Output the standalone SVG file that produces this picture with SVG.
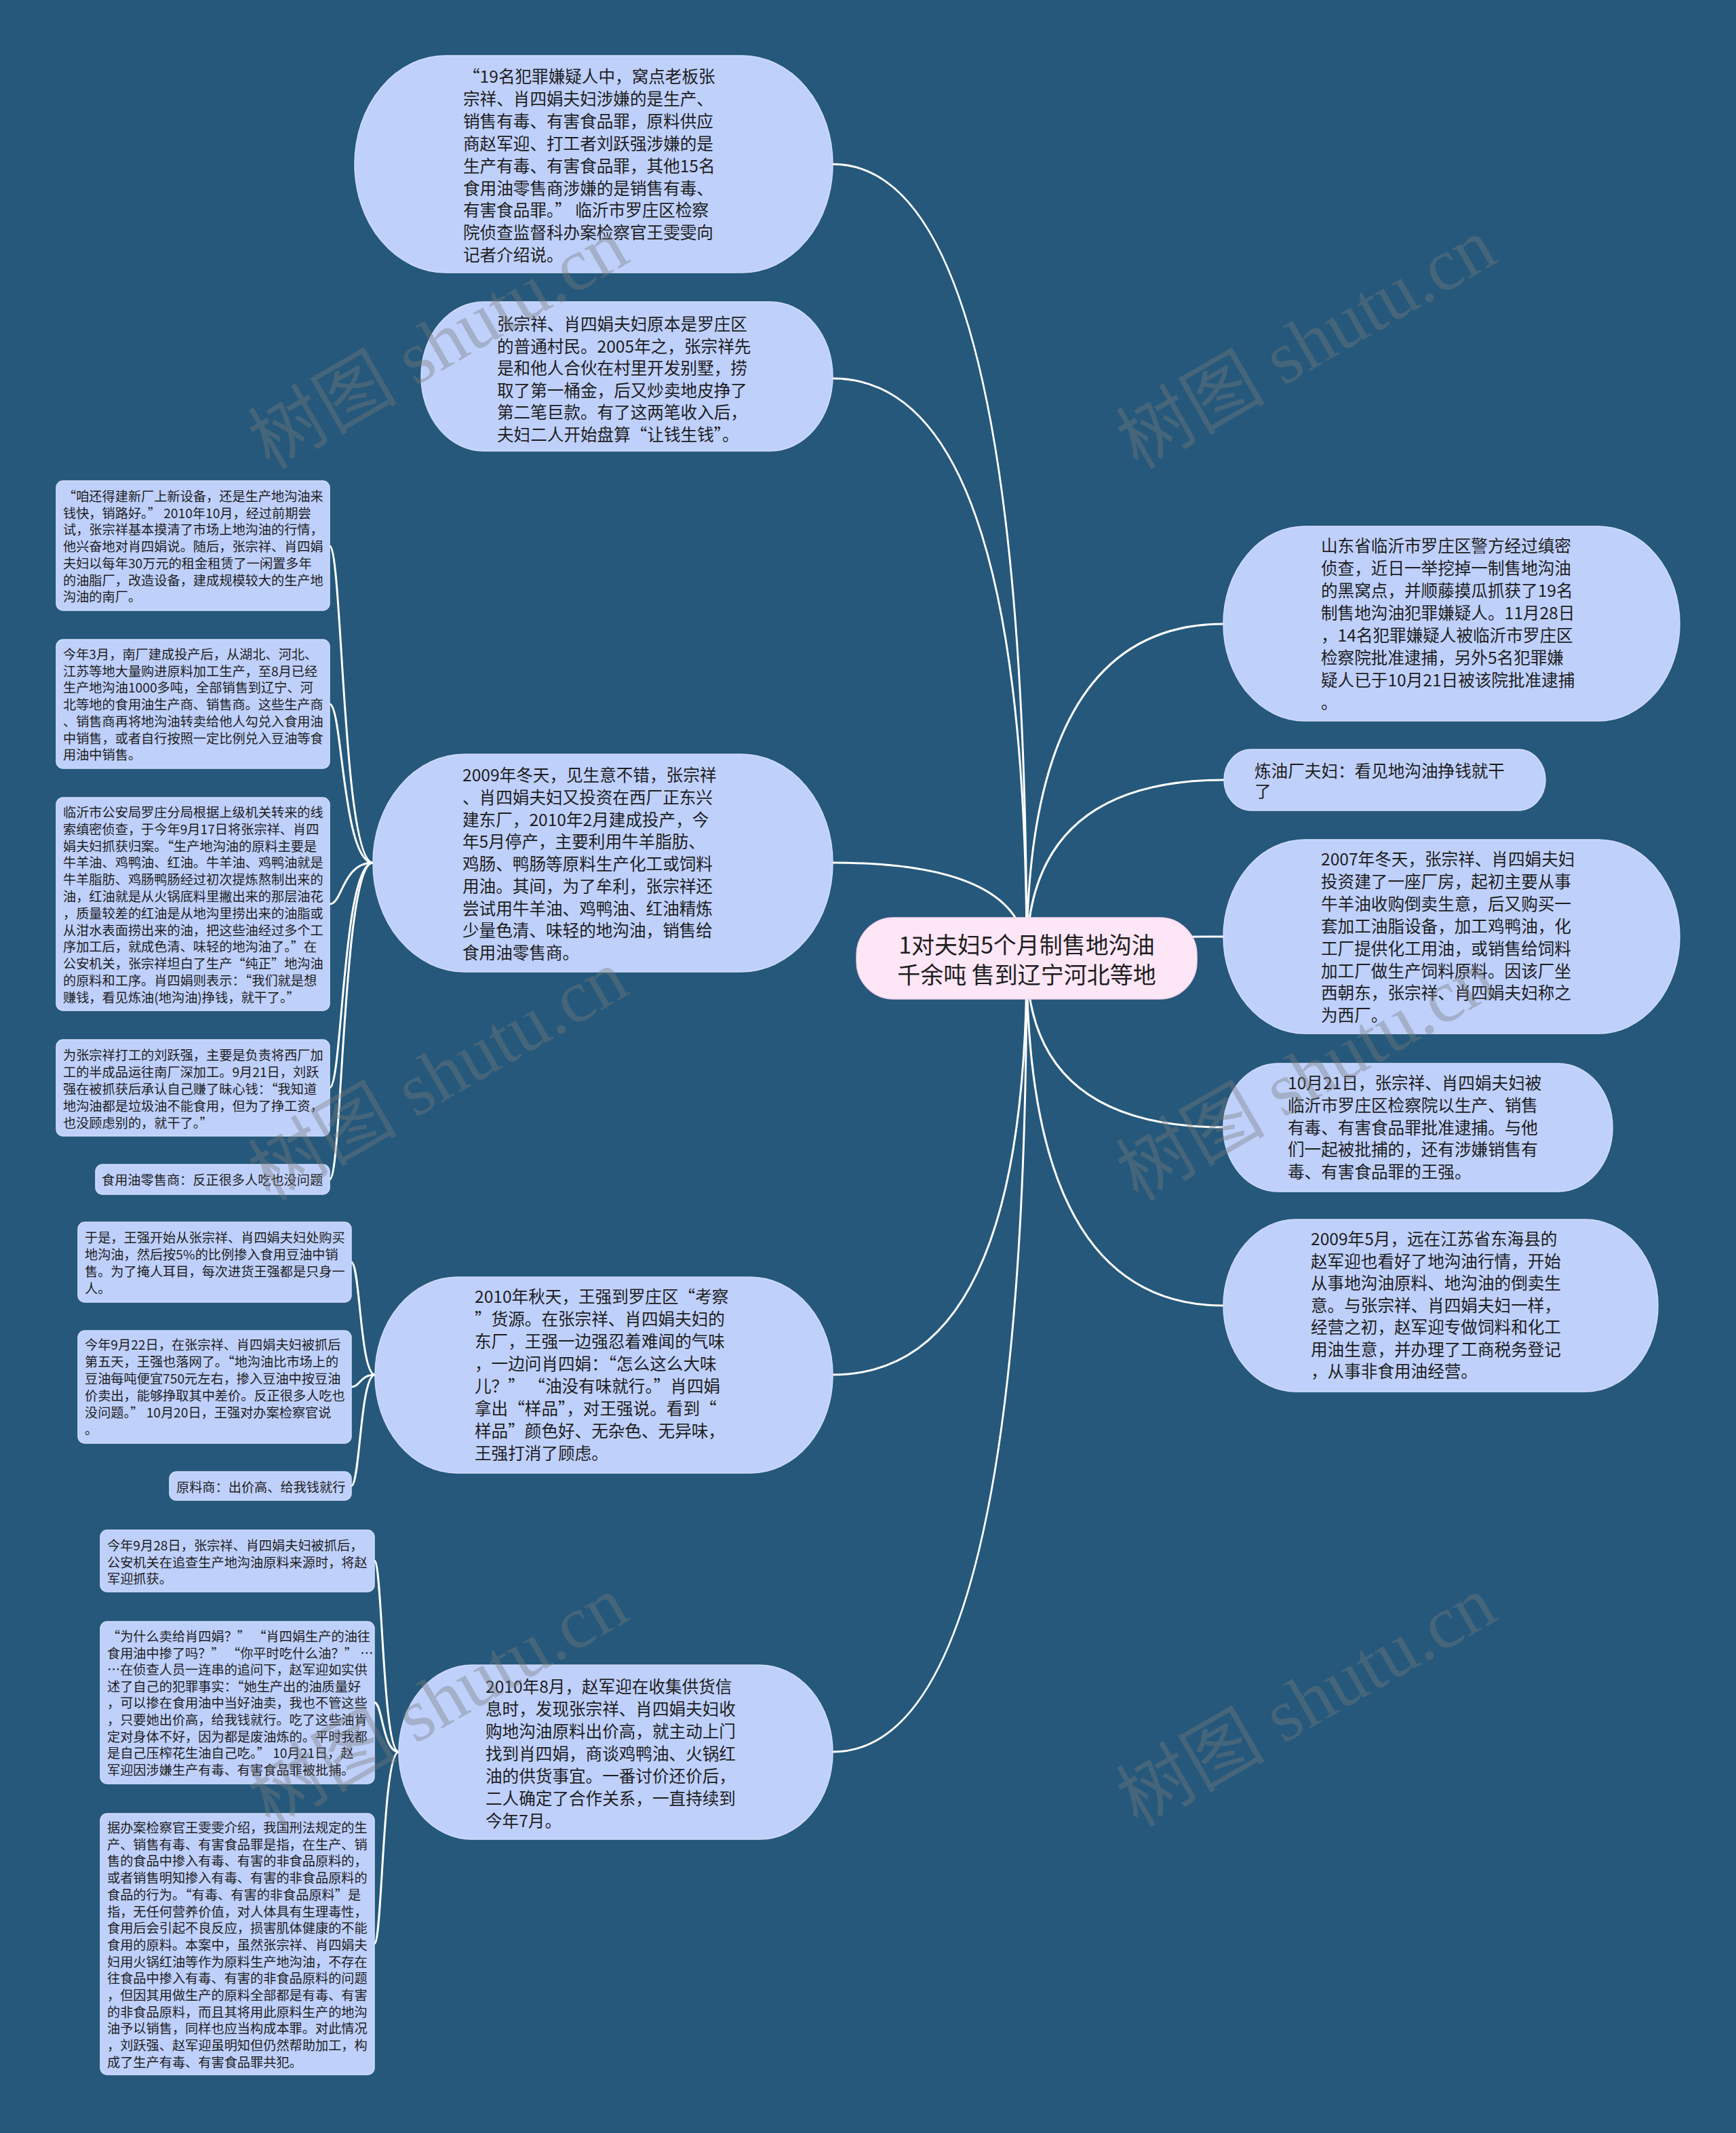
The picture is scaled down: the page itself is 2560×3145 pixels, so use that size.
<svg xmlns="http://www.w3.org/2000/svg" width="2560" height="3145" viewBox="0 0 2560 3145">
<style>
.conn{fill:none;stroke:#ffffff;stroke-width:3}
.bub{fill:#bfd0fb;stroke:#d2ddfb;stroke-width:1.5}
.ctr{fill:#fde6f6;stroke:#f6d3ec;stroke-width:1.5}
.t{font-family:"Noto Sans CJK SC","Noto Sans",sans-serif;font-size:24.6px;fill:#1e1e1e}
.s{font-family:"Noto Sans CJK SC","Noto Sans",sans-serif;font-size:19.2px;fill:#1e1e1e}
.c{font-family:"Noto Sans CJK SC","Noto Sans",sans-serif;font-size:34px;fill:#1e1e1e;text-anchor:middle}
.wm{font-family:"Liberation Serif","Noto Sans CJK SC",serif;font-size:110px;fill:#7a7a7a;opacity:0.38;text-anchor:middle}
</style>
<rect x="0" y="0" width="2560" height="3145" fill="#25587b"/>
<g id="connectors">
<path class="conn" d="M1514,1413 Q1514,242 1228,242"/>
<path class="conn" d="M1514,1413 Q1514,558 1228,558"/>
<path class="conn" d="M1514,1413 Q1514,1272 1228,1272"/>
<path class="conn" d="M1514,1413 Q1514,2027 1228,2027"/>
<path class="conn" d="M1514,1413 Q1514,2583 1228,2583"/>
<path class="conn" d="M1514,1413 Q1514,920 1804,920"/>
<path class="conn" d="M1514,1413 Q1514,1150 1805,1150"/>
<path class="conn" d="M1514,1413 Q1514,1381 1804,1381"/>
<path class="conn" d="M1514,1413 Q1514,1662 1804,1662"/>
<path class="conn" d="M1514,1413 Q1514,1925 1804,1925"/>
<path class="conn" d="M550,1272 C505,1272 505,805 486,805"/>
<path class="conn" d="M550,1272 C505,1272 505,1038 486,1038"/>
<path class="conn" d="M550,1272 C505,1272 505,1333 486,1333"/>
<path class="conn" d="M550,1272 C505,1272 505,1604 486,1604"/>
<path class="conn" d="M550,1272 C505,1272 505,1739 486,1739"/>
<path class="conn" d="M553,2027 C531,2027 531,1861 518,1861"/>
<path class="conn" d="M553,2027 C531,2027 531,2045 518,2045"/>
<path class="conn" d="M553,2027 C531,2027 531,2191 518,2191"/>
<path class="conn" d="M588,2583 C564,2583 564,2301 552,2301"/>
<path class="conn" d="M588,2583 C564,2583 564,2510 552,2510"/>
<path class="conn" d="M588,2583 C564,2583 564,2866 552,2866"/>
</g>
<g id="center">
<rect class="ctr" x="1263" y="1353" width="502" height="120" rx="55" ry="55"/>
<text class="c"><tspan x="1514" y="1406">1对夫妇5个月制售地沟油</tspan><tspan x="1514" y="1450">千余吨 售到辽宁河北等地</tspan></text>
</g>
<g id="n-l1">
<rect class="bub" x="523" y="82" width="705" height="320" rx="134" ry="160"/>
<text class="t"><tspan x="683" y="122">“19名犯罪嫌疑人中，窝点老板张</tspan><tspan x="683" dy="32.9">宗祥、肖四娟夫妇涉嫌的是生产、</tspan><tspan x="683" dy="32.9">销售有毒、有害食品罪，原料供应</tspan><tspan x="683" dy="32.9">商赵军迎、打工者刘跃强涉嫌的是</tspan><tspan x="683" dy="32.9">生产有毒、有害食品罪，其他15名</tspan><tspan x="683" dy="32.9">食用油零售商涉嫌的是销售有毒、</tspan><tspan x="683" dy="32.9">有害食品罪。” 临沂市罗庄区检察</tspan><tspan x="683" dy="32.9">院侦查监督科办案检察官王雯雯向</tspan><tspan x="683" dy="32.9">记者介绍说。</tspan></text>
</g>
<g id="n-l2">
<rect class="bub" x="621" y="445" width="607" height="220" rx="92" ry="110"/>
<text class="t"><tspan x="733" y="487">张宗祥、肖四娟夫妇原本是罗庄区</tspan><tspan x="733" dy="32.5">的普通村民。2005年之，张宗祥先</tspan><tspan x="733" dy="32.5">是和他人合伙在村里开发别墅，捞</tspan><tspan x="733" dy="32.5">取了第一桶金，后又炒卖地皮挣了</tspan><tspan x="733" dy="32.5">第二笔巨款。有了这两笔收入后，</tspan><tspan x="733" dy="32.5">夫妇二人开始盘算“让钱生钱”。</tspan></text>
</g>
<g id="n-l3">
<rect class="bub" x="550" y="1112" width="678" height="321" rx="135" ry="160"/>
<text class="t"><tspan x="682" y="1152">2009年冬天，见生意不错，张宗祥</tspan><tspan x="682" dy="32.75">、肖四娟夫妇又投资在西厂正东兴</tspan><tspan x="682" dy="32.75">建东厂，2010年2月建成投产，今</tspan><tspan x="682" dy="32.75">年5月停产，主要利用牛羊脂肪、</tspan><tspan x="682" dy="32.75">鸡肠、鸭肠等原料生产化工或饲料</tspan><tspan x="682" dy="32.75">用油。其间，为了牟利，张宗祥还</tspan><tspan x="682" dy="32.75">尝试用牛羊油、鸡鸭油、红油精炼</tspan><tspan x="682" dy="32.75">少量色清、味轻的地沟油，销售给</tspan><tspan x="682" dy="32.75">食用油零售商。</tspan></text>
</g>
<g id="n-l4">
<rect class="bub" x="553" y="1883" width="675" height="289" rx="121" ry="144"/>
<text class="t"><tspan x="700" y="1921">2010年秋天，王强到罗庄区“考察</tspan><tspan x="700" dy="33">”货源。在张宗祥、肖四娟夫妇的</tspan><tspan x="700" dy="33">东厂，王强一边强忍着难闻的气味</tspan><tspan x="700" dy="33">，一边问肖四娟：“怎么这么大味</tspan><tspan x="700" dy="33">儿？” “油没有味就行。”肖四娟</tspan><tspan x="700" dy="33">拿出“样品”，对王强说。看到“</tspan><tspan x="700" dy="33">样品”颜色好、无杂色、无异味，</tspan><tspan x="700" dy="33">王强打消了顾虑。</tspan></text>
</g>
<g id="n-l5">
<rect class="bub" x="588" y="2455" width="640" height="257" rx="108" ry="128"/>
<text class="t"><tspan x="716" y="2496">2010年8月，赵军迎在收集供货信</tspan><tspan x="716" dy="33">息时，发现张宗祥、肖四娟夫妇收</tspan><tspan x="716" dy="33">购地沟油原料出价高，就主动上门</tspan><tspan x="716" dy="33">找到肖四娟，商谈鸡鸭油、火锅红</tspan><tspan x="716" dy="33">油的供货事宜。一番讨价还价后，</tspan><tspan x="716" dy="33">二人确定了合作关系，一直持续到</tspan><tspan x="716" dy="33">今年7月。</tspan></text>
</g>
<g id="n-r1">
<rect class="bub" x="1804" y="776" width="673" height="287" rx="120" ry="143"/>
<text class="t"><tspan x="1948" y="814">山东省临沂市罗庄区警方经过缜密</tspan><tspan x="1948" dy="33">侦查，近日一举挖掉一制售地沟油</tspan><tspan x="1948" dy="33">的黑窝点，并顺藤摸瓜抓获了19名</tspan><tspan x="1948" dy="33">制售地沟油犯罪嫌疑人。11月28日</tspan><tspan x="1948" dy="33">，14名犯罪嫌疑人被临沂市罗庄区</tspan><tspan x="1948" dy="33">检察院批准逮捕，另外5名犯罪嫌</tspan><tspan x="1948" dy="33">疑人已于10月21日被该院批准逮捕</tspan><tspan x="1948" dy="33">。</tspan></text>
</g>
<g id="n-r2">
<rect class="bub" x="1805" y="1105" width="474" height="90" rx="40" ry="45"/>
<text class="t"><tspan x="1850" y="1146">炼油厂夫妇：看见地沟油挣钱就干</tspan><tspan x="1850" dy="30">了</tspan></text>
</g>
<g id="n-r3">
<rect class="bub" x="1804" y="1238" width="673" height="286" rx="120" ry="143"/>
<text class="t"><tspan x="1948" y="1276">2007年冬天，张宗祥、肖四娟夫妇</tspan><tspan x="1948" dy="32.9">投资建了一座厂房，起初主要从事</tspan><tspan x="1948" dy="32.9">牛羊油收购倒卖生意，后又购买一</tspan><tspan x="1948" dy="32.9">套加工油脂设备，加工鸡鸭油，化</tspan><tspan x="1948" dy="32.9">工厂提供化工用油，或销售给饲料</tspan><tspan x="1948" dy="32.9">加工厂做生产饲料原料。因该厂坐</tspan><tspan x="1948" dy="32.9">西朝东，张宗祥、肖四娟夫妇称之</tspan><tspan x="1948" dy="32.9">为西厂。</tspan></text>
</g>
<g id="n-r4">
<rect class="bub" x="1804" y="1568" width="574" height="189" rx="80" ry="94"/>
<text class="t"><tspan x="1899" y="1606">10月21日，张宗祥、肖四娟夫妇被</tspan><tspan x="1899" dy="32.75">临沂市罗庄区检察院以生产、销售</tspan><tspan x="1899" dy="32.75">有毒、有害食品罪批准逮捕。与他</tspan><tspan x="1899" dy="32.75">们一起被批捕的，还有涉嫌销售有</tspan><tspan x="1899" dy="32.75">毒、有害食品罪的王强。</tspan></text>
</g>
<g id="n-r5">
<rect class="bub" x="1804" y="1798" width="641" height="254" rx="107" ry="127"/>
<text class="t"><tspan x="1933" y="1836">2009年5月，远在江苏省东海县的</tspan><tspan x="1933" dy="32.5">赵军迎也看好了地沟油行情，开始</tspan><tspan x="1933" dy="32.5">从事地沟油原料、地沟油的倒卖生</tspan><tspan x="1933" dy="32.5">意。与张宗祥、肖四娟夫妇一样，</tspan><tspan x="1933" dy="32.5">经营之初，赵军迎专做饲料和化工</tspan><tspan x="1933" dy="32.5">用油生意，并办理了工商税务登记</tspan><tspan x="1933" dy="32.5">，从事非食用油经营。</tspan></text>
</g>
<g id="n-a1">
<rect class="bub" x="83" y="709" width="403" height="191" rx="10"/>
<text class="s"><tspan x="93" y="739">“咱还得建新厂上新设备，还是生产地沟油来</tspan><tspan x="93" dy="24.7">钱快，销路好。” 2010年10月，经过前期尝</tspan><tspan x="93" dy="24.7">试，张宗祥基本摸清了市场上地沟油的行情，</tspan><tspan x="93" dy="24.7">他兴奋地对肖四娟说。随后，张宗祥、肖四娟</tspan><tspan x="93" dy="24.7">夫妇以每年30万元的租金租赁了一闲置多年</tspan><tspan x="93" dy="24.7">的油脂厂，改造设备，建成规模较大的生产地</tspan><tspan x="93" dy="24.7">沟油的南厂。</tspan></text>
</g>
<g id="n-a2">
<rect class="bub" x="83" y="943" width="403" height="190" rx="10"/>
<text class="s"><tspan x="93" y="972">今年3月，南厂建成投产后，从湖北、河北、</tspan><tspan x="93" dy="24.7">江苏等地大量购进原料加工生产，至8月已经</tspan><tspan x="93" dy="24.7">生产地沟油1000多吨，全部销售到辽宁、河</tspan><tspan x="93" dy="24.7">北等地的食用油生产商、销售商。这些生产商</tspan><tspan x="93" dy="24.7">、销售商再将地沟油转卖给他人勾兑入食用油</tspan><tspan x="93" dy="24.7">中销售，或者自行按照一定比例兑入豆油等食</tspan><tspan x="93" dy="24.7">用油中销售。</tspan></text>
</g>
<g id="n-a3">
<rect class="bub" x="83" y="1176" width="403" height="314" rx="10"/>
<text class="s"><tspan x="93" y="1205">临沂市公安局罗庄分局根据上级机关转来的线</tspan><tspan x="93" dy="24.8">索缜密侦查，于今年9月17日将张宗祥、肖四</tspan><tspan x="93" dy="24.8">娟夫妇抓获归案。“生产地沟油的原料主要是</tspan><tspan x="93" dy="24.8">牛羊油、鸡鸭油、红油。牛羊油、鸡鸭油就是</tspan><tspan x="93" dy="24.8">牛羊脂肪、鸡肠鸭肠经过初次提炼熬制出来的</tspan><tspan x="93" dy="24.8">油，红油就是从火锅底料里撇出来的那层油花</tspan><tspan x="93" dy="24.8">，质量较差的红油是从地沟里捞出来的油脂或</tspan><tspan x="93" dy="24.8">从泔水表面捞出来的油，把这些油经过多个工</tspan><tspan x="93" dy="24.8">序加工后，就成色清、味轻的地沟油了。”在</tspan><tspan x="93" dy="24.8">公安机关，张宗祥坦白了生产“纯正”地沟油</tspan><tspan x="93" dy="24.8">的原料和工序。肖四娟则表示：“我们就是想</tspan><tspan x="93" dy="24.8">赚钱，看见炼油(地沟油)挣钱，就干了。”</tspan></text>
</g>
<g id="n-a4">
<rect class="bub" x="83" y="1533" width="403" height="142" rx="10"/>
<text class="s"><tspan x="93" y="1563">为张宗祥打工的刘跃强，主要是负责将西厂加</tspan><tspan x="93" dy="25">工的半成品运往南厂深加工。9月21日，刘跃</tspan><tspan x="93" dy="25">强在被抓获后承认自己赚了昧心钱：“我知道</tspan><tspan x="93" dy="25">地沟油都是垃圾油不能食用，但为了挣工资，</tspan><tspan x="93" dy="25">也没顾虑别的，就干了。”</tspan></text>
</g>
<g id="n-a5">
<rect class="bub" x="141" y="1717" width="345" height="44" rx="10"/>
<text class="s"><tspan x="150" y="1747">食用油零售商：反正很多人吃也没问题</tspan></text>
</g>
<g id="n-b1">
<rect class="bub" x="115" y="1802" width="403" height="118" rx="10"/>
<text class="s"><tspan x="125" y="1832">于是，王强开始从张宗祥、肖四娟夫妇处购买</tspan><tspan x="125" dy="25">地沟油，然后按5%的比例掺入食用豆油中销</tspan><tspan x="125" dy="25">售。为了掩人耳目，每次进货王强都是只身一</tspan><tspan x="125" dy="25">人。</tspan></text>
</g>
<g id="n-b2">
<rect class="bub" x="115" y="1962" width="403" height="166" rx="10"/>
<text class="s"><tspan x="125" y="1990">今年9月22日，在张宗祥、肖四娟夫妇被抓后</tspan><tspan x="125" dy="25">第五天，王强也落网了。“地沟油比市场上的</tspan><tspan x="125" dy="25">豆油每吨便宜750元左右，掺入豆油中按豆油</tspan><tspan x="125" dy="25">价卖出，能够挣取其中差价。反正很多人吃也</tspan><tspan x="125" dy="25">没问题。” 10月20日，王强对办案检察官说</tspan><tspan x="125" dy="25">。</tspan></text>
</g>
<g id="n-b3">
<rect class="bub" x="250" y="2170" width="268" height="42" rx="10"/>
<text class="s"><tspan x="260" y="2200">原料商：出价高、给我钱就行</tspan></text>
</g>
<g id="n-c1">
<rect class="bub" x="148" y="2256" width="404" height="91" rx="10"/>
<text class="s"><tspan x="158" y="2286">今年9月28日，张宗祥、肖四娟夫妇被抓后，</tspan><tspan x="158" dy="24.6">公安机关在追查生产地沟油原料来源时，将赵</tspan><tspan x="158" dy="24.6">军迎抓获。</tspan></text>
</g>
<g id="n-c2">
<rect class="bub" x="148" y="2391" width="404" height="239" rx="10"/>
<text class="s"><tspan x="158" y="2420">“为什么卖给肖四娟？” “肖四娟生产的油往</tspan><tspan x="158" dy="24.6">食用油中掺了吗？” “你平时吃什么油？” …</tspan><tspan x="158" dy="24.6">…在侦查人员一连串的追问下，赵军迎如实供</tspan><tspan x="158" dy="24.6">述了自己的犯罪事实：“她生产出的油质量好</tspan><tspan x="158" dy="24.6">，可以掺在食用油中当好油卖，我也不管这些</tspan><tspan x="158" dy="24.6">，只要她出价高，给我钱就行。吃了这些油肯</tspan><tspan x="158" dy="24.6">定对身体不好，因为都是废油炼的。平时我都</tspan><tspan x="158" dy="24.6">是自己压榨花生油自己吃。” 10月21日，赵</tspan><tspan x="158" dy="24.6">军迎因涉嫌生产有毒、有害食品罪被批捕。</tspan></text>
</g>
<g id="n-c3">
<rect class="bub" x="148" y="2674" width="404" height="385" rx="10"/>
<text class="s"><tspan x="158" y="2702">据办案检察官王雯雯介绍，我国刑法规定的生</tspan><tspan x="158" dy="24.7">产、销售有毒、有害食品罪是指，在生产、销</tspan><tspan x="158" dy="24.7">售的食品中掺入有毒、有害的非食品原料的，</tspan><tspan x="158" dy="24.7">或者销售明知掺入有毒、有害的非食品原料的</tspan><tspan x="158" dy="24.7">食品的行为。“有毒、有害的非食品原料”是</tspan><tspan x="158" dy="24.7">指，无任何营养价值，对人体具有生理毒性，</tspan><tspan x="158" dy="24.7">食用后会引起不良反应，损害肌体健康的不能</tspan><tspan x="158" dy="24.7">食用的原料。本案中，虽然张宗祥、肖四娟夫</tspan><tspan x="158" dy="24.7">妇用火锅红油等作为原料生产地沟油，不存在</tspan><tspan x="158" dy="24.7">往食品中掺入有毒、有害的非食品原料的问题</tspan><tspan x="158" dy="24.7">，但因其用做生产的原料全部都是有毒、有害</tspan><tspan x="158" dy="24.7">的非食品原料，而且其将用此原料生产的地沟</tspan><tspan x="158" dy="24.7">油予以销售，同样也应当构成本罪。对此情况</tspan><tspan x="158" dy="24.7">，刘跃强、赵军迎虽明知但仍然帮助加工，构</tspan><tspan x="158" dy="24.7">成了生产有毒、有害食品罪共犯。</tspan></text>
</g>
<g id="watermarks">
<text class="wm" transform="translate(646,506) rotate(-30)" y="38">树图 shutu.cn</text>
<text class="wm" transform="translate(1926,506) rotate(-30)" y="38">树图 shutu.cn</text>
<text class="wm" transform="translate(646,1585) rotate(-30)" y="38">树图 shutu.cn</text>
<text class="wm" transform="translate(1926,1585) rotate(-30)" y="38">树图 shutu.cn</text>
<text class="wm" transform="translate(646,2508) rotate(-30)" y="38">树图 shutu.cn</text>
<text class="wm" transform="translate(1926,2508) rotate(-30)" y="38">树图 shutu.cn</text>
</g>
</svg>
